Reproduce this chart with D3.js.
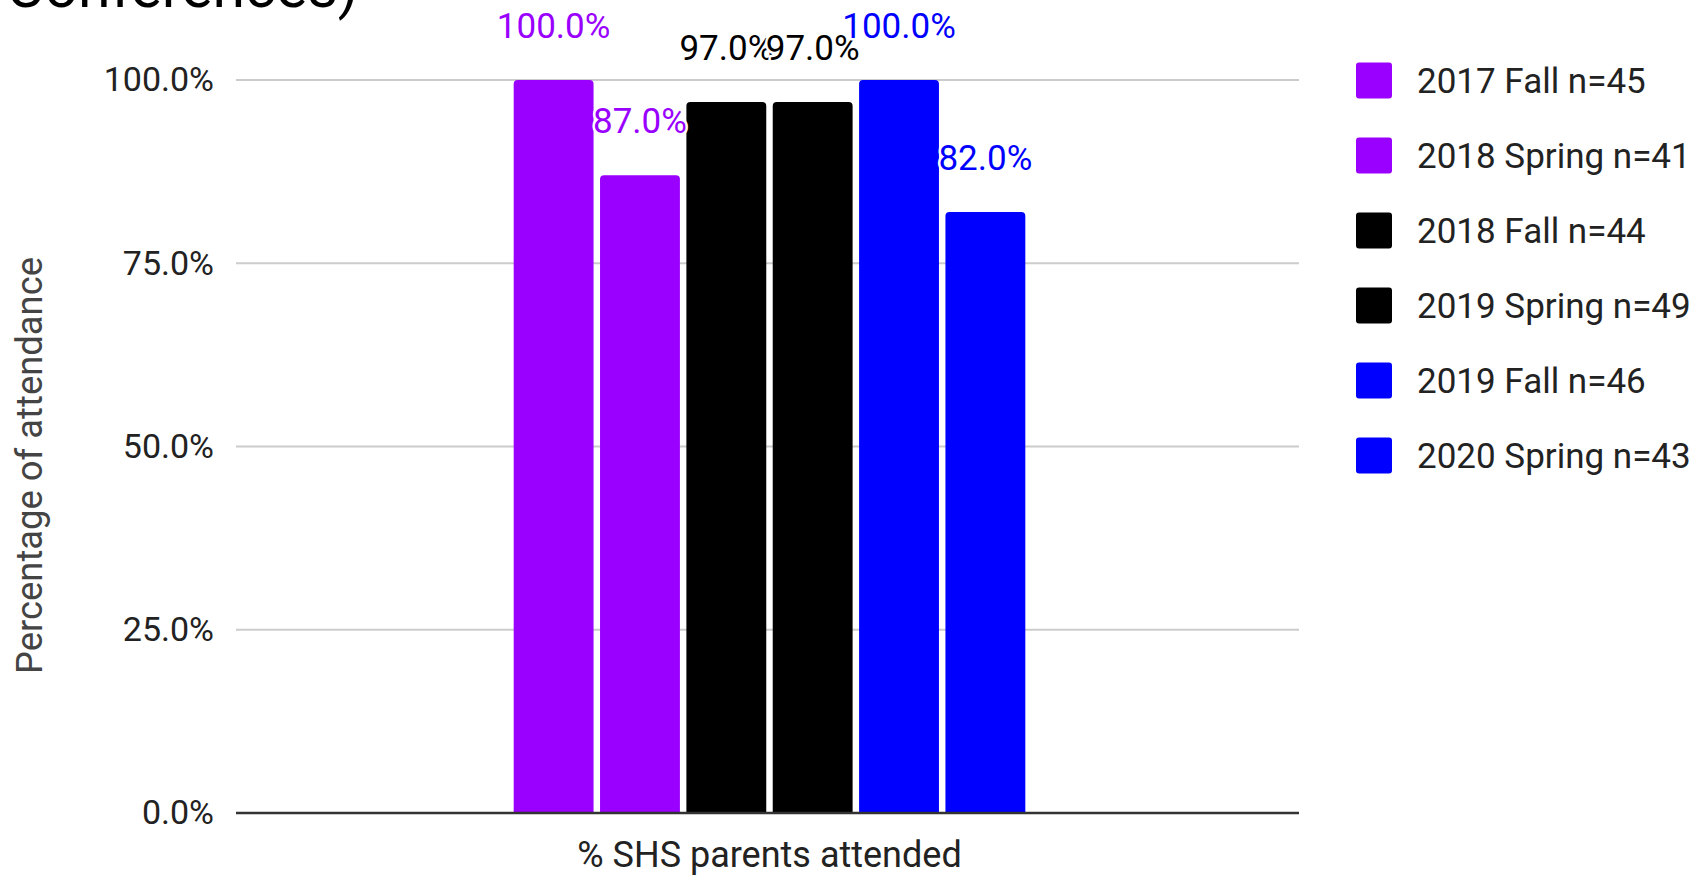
<!DOCTYPE html>
<html>
<head>
<meta charset="utf-8">
<script src="https://cdn.jsdelivr.net/npm/d3@7"></script>
<style>
  html, body { margin: 0; padding: 0; background: #fff; overflow: hidden; }
  svg { display: block; font-family: Roboto, sans-serif; }
</style>
</head>
<body>
<div class="container"></div>
<script>
// Size of frame
const width = 1697;
const height = 875;
const margin = { top: 80, right: 398, bottom: 62, left: 236 };

// Data
const categories = ['% SHS parents attended'];
const series = ['2017 Fall n=45', '2018 Spring n=41', '2018 Fall n=44', '2019 Spring n=49', '2019 Fall n=46', '2020 Spring n=43'];
const values = [100, 87, 97, 97, 100, 82];
const colors = ['#9900ff', '#9900ff', '#000000', '#000000', '#0000ff', '#0000ff'];
const yTicks = [0, 25, 50, 75, 100];

const fmt = d => d.toFixed(1) + '%';

// top corners rounded, bottom square
function barPath(x, y, w, h, r) {
  r = Math.min(r, h);
  return `M${x},${y + h}V${y + r}Q${x},${y} ${x + r},${y}H${x + w - r}Q${x + w},${y} ${x + w},${y + r}V${y + h}Z`;
}

function draw() {
  const svg = d3.select('.container')
    .append('svg')
    .attr('width', width)
    .attr('height', height);

  const x0 = d3.scaleBand()
    .domain(categories)
    .range([margin.left + 4, width - margin.right])
    .paddingOuter(0.522);
  const x1 = d3.scaleBand()
    .domain(series)
    .range([0, x0.bandwidth()])
    .paddingInner(0.075)
    .paddingOuter(0.0375);
  const y = d3.scaleLinear()
    .domain([0, 100])
    .range([height - margin.bottom, margin.top]);

  // title, mostly cut off at the top
  svg.append('text')
    .attr('x', 6)
    .attr('y', 7)
    .attr('font-size', 59)
    .attr('fill', '#000')
    .text('Conferences)');

  // gridlines
  svg.append('g')
    .selectAll('line')
    .data(yTicks.filter(d => d > 0))
    .enter()
    .append('line')
    .attr('x1', margin.left)
    .attr('x2', width - margin.right)
    .attr('y1', d => y(d))
    .attr('y2', d => y(d))
    .attr('stroke', '#cccccc')
    .attr('stroke-width', 2);

  // y axis labels
  const yAxis = svg.append('g')
    .attr('transform', `translate(${margin.left},0)`)
    .call(d3.axisLeft(y).tickValues(yTicks).tickFormat(fmt).tickSize(0).tickPadding(22));
  yAxis.select('.domain').remove();
  yAxis.selectAll('text')
    .attr('font-family', 'Roboto, sans-serif')
    .attr('font-size', 34)
    .attr('fill', '#222');

  // bars
  const group = svg.append('g')
    .attr('transform', `translate(${x0(categories[0])},0)`);
  group.selectAll('.bar')
    .data(values)
    .enter()
    .append('path')
    .attr('class', 'bar')
    .attr('d', (d, i) => barPath(x1(series[i]), y(d), x1.bandwidth(), y(0) - y(d), 4))
    .attr('fill', (d, i) => colors[i]);

  // value labels with white halo
  group.selectAll('.label')
    .data(values)
    .enter()
    .append('text')
    .attr('class', 'label')
    .attr('x', (d, i) => x1(series[i]) + x1.bandwidth() / 2)
    .attr('y', d => y(d) - 42)
    .attr('text-anchor', 'middle')
    .attr('font-size', 35)
    .attr('fill', (d, i) => colors[i])
    .attr('stroke', '#fff')
    .attr('stroke-width', 5)
    .attr('stroke-linejoin', 'round')
    .attr('paint-order', 'stroke')
    .text(fmt);

  // baseline
  svg.append('line')
    .attr('x1', margin.left)
    .attr('x2', width - margin.right)
    .attr('y1', y(0))
    .attr('y2', y(0))
    .attr('stroke', '#333')
    .attr('stroke-width', 2.5);

  // x axis label
  svg.append('text')
    .attr('x', x0(categories[0]) + x0.bandwidth() / 2)
    .attr('y', 867)
    .attr('text-anchor', 'middle')
    .attr('font-size', 36)
    .attr('fill', '#222')
    .text(categories[0]);

  // y axis title
  svg.append('text')
    .attr('transform', `translate(42,${(y(0) + y(100)) / 2 + 19}) rotate(-90)`)
    .attr('text-anchor', 'middle')
    .attr('font-size', 36.4)
    .attr('fill', '#444')
    .text('Percentage of attendance');

  // legend
  const legend = svg.append('g')
    .selectAll('.legend')
    .data(series)
    .enter()
    .append('g')
    .attr('class', 'legend')
    .attr('transform', (d, i) => `translate(1356,${80.5 + i * 75})`);
  legend.append('rect')
    .attr('x', 0)
    .attr('y', -18)
    .attr('width', 36)
    .attr('height', 36)
    .attr('rx', 3)
    .attr('fill', (d, i) => colors[i]);
  legend.append('text')
    .attr('x', 61)
    .attr('y', 0)
    .attr('dy', '0.36em')
    .attr('font-size', 35)
    .attr('fill', '#222')
    .text(d => d);
}

draw();
</script>
</body>
</html>
